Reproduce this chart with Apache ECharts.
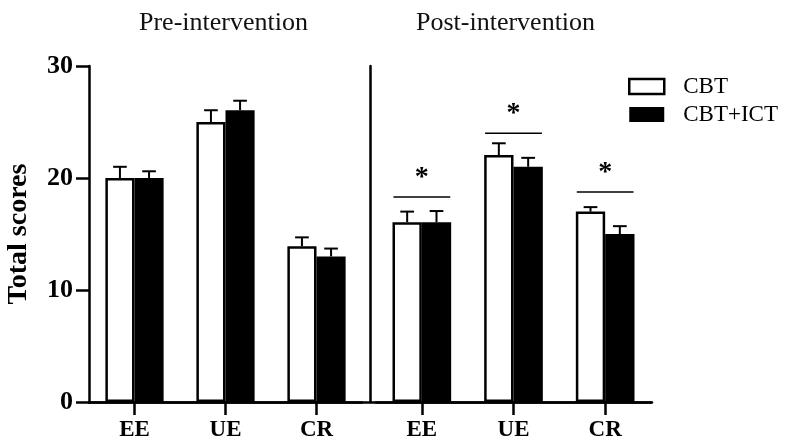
<!DOCTYPE html>
<html>
<head>
<meta charset="utf-8">
<script src="https://cdn.jsdelivr.net/npm/echarts@6/dist/echarts.min.js"></script>
<style>html,body{margin:0;padding:0;background:#fff;}#c{width:798px;height:442px;}</style>
</head>
<body>
<div id="c"></div>
<script>
var categories = ['EE', 'UE', 'CR'];
var yTicks = [0, 10, 20, 30];
// Pre-intervention
var preCBT = [20.0, 25.0, 13.9];
var preCBTUpper = [21.0, 26.05, 14.7];
var preICT = [20.0, 26.05, 13.0];
var preICTUpper = [20.6, 26.9, 13.7];
// Post-intervention
var postCBT = [16.05, 22.05, 17.0];
var postCBTUpper = [17.0, 23.1, 17.4];
var postICT = [16.05, 21.0, 15.0];
var postICTUpper = [17.05, 21.8, 15.7];
// Significance brackets (post-intervention)
var sigLevel = [18.3, 24.0, 18.75];
var sigMark = ['*', '*', '*'];

var FONT = '"Liberation Serif", "Times New Roman", serif';

function errData(means, uppers) {
  return means.map(function (m, i) { return [i, m, uppers[i]]; });
}
function errRender(sign) {
  return function (params, api) {
    var x = api.value(0);
    var p0 = api.coord([x, api.value(1)]);
    var p1 = api.coord([x, api.value(2)]);
    var band = api.size([1, 0])[0];
    var cx = p0[0] + sign * band * 0.16;
    var cap = band * 0.075;
    var st = { stroke: '#000', lineWidth: 2 };
    return {
      type: 'group',
      children: [
        { type: 'line', shape: { x1: cx, y1: p0[1], x2: cx, y2: p1[1] }, style: st },
        { type: 'line', shape: { x1: cx - cap, y1: p1[1], x2: cx + cap, y2: p1[1] }, style: st }
      ]
    };
  };
}
function sigRender(params, api) {
  var x = api.value(0);
  var p = api.coord([x, api.value(1)]);
  var band = api.size([1, 0])[0];
  var hw = band * 0.31;
  return {
    type: 'group',
    children: [
      { type: 'line', shape: { x1: p[0] - hw, y1: p[1], x2: p[0] + hw, y2: p[1] }, style: { stroke: '#000', lineWidth: 1.5 } },
      { type: 'text', style: { text: sigMark[params.dataIndex], x: p[0], y: p[1] - 5, align: 'center', verticalAlign: 'bottom', font: 'bold 28px ' + FONT, fill: '#000' } }
    ]
  };
}

function catAxis(gi) {
  return {
    type: 'category', gridIndex: gi, data: categories,
    axisLine: { show: true, lineStyle: { color: '#000', width: 2.5 } },
    axisTick: { show: true, alignWithLabel: true, length: 13, lineStyle: { color: '#000', width: 2.5 } },
    axisLabel: { color: '#000', fontFamily: FONT, fontWeight: 'bold', fontSize: 23, margin: 17 },
    splitLine: { show: false }
  };
}

var whiteStyle = { color: '#fff', borderColor: '#000', borderWidth: 2.5 };
var blackStyle = { color: '#000', borderColor: '#000', borderWidth: 0 };

var chart = echarts.init(document.getElementById('c'));
chart.setOption({
  animation: false,
  backgroundColor: '#fff',
  graphic: [
    { type: 'text', left: 139, top: 10, style: { text: 'Pre-intervention', font: '26px ' + FONT, fill: '#111' } },
    { type: 'text', left: 416, top: 10, style: { text: 'Post-intervention', font: '26px ' + FONT, fill: '#111' } }
  ],
  legend: {
    orient: 'vertical', left: 623, top: 70, itemWidth: 35, itemHeight: 15, itemGap: 5, icon: 'rect',
    textStyle: { fontFamily: FONT, fontSize: 23, color: '#000', padding: [0, 0, 0, 14] },
    data: [
      { name: 'CBT', itemStyle: { color: '#fff', borderColor: '#000', borderWidth: 2.5 } },
      { name: 'CBT+ICT', itemStyle: { color: '#000', borderWidth: 0 } }
    ]
  },
  grid: [
    { left: 89, width: 273, top: 66, bottom: 40 },
    { left: 376, width: 275, top: 66, bottom: 40 },
    { left: 89, width: 563, top: 66, bottom: 40 }
  ],
  xAxis: [
    catAxis(0),
    catAxis(1),
    { type: 'value', gridIndex: 2, min: 0, max: 1, axisLine: { show: true, lineStyle: { color: '#000', width: 2.5 } },
      axisTick: { show: false }, axisLabel: { show: false }, splitLine: { show: false } }
  ],
  yAxis: [
    { type: 'value', gridIndex: 0, min: 0, max: 30, interval: 10,
      name: 'Total scores', nameLocation: 'middle', nameGap: 56, nameRotate: 90,
      nameTextStyle: { fontFamily: FONT, fontWeight: 'bold', fontSize: 28, color: '#000' },
      axisLine: { show: true, lineStyle: { color: '#000', width: 2.5 } },
      axisTick: { show: true, length: 13, lineStyle: { color: '#000', width: 2.5 } },
      axisLabel: { color: '#000', fontFamily: FONT, fontWeight: 'bold', fontSize: 26, margin: 16,
        formatter: function (v) { return yTicks.indexOf(v) >= 0 ? String(v) : ''; } },
      splitLine: { show: false } },
    { type: 'value', gridIndex: 1, min: 0, max: 30, interval: 10, offset: 6,
      axisLine: { show: true, onZero: false, lineStyle: { color: '#000', width: 2.5 } },
      axisTick: { show: false }, axisLabel: { show: false }, splitLine: { show: false } },
    { type: 'value', gridIndex: 2, min: 0, max: 30, show: false }
  ],
  series: [
    { name: 'CBT', type: 'bar', xAxisIndex: 0, yAxisIndex: 0, data: preCBT, barWidth: '32%', barGap: '0%', itemStyle: whiteStyle, z: 2 },
    { name: 'CBT+ICT', type: 'bar', xAxisIndex: 0, yAxisIndex: 0, data: preICT, barWidth: '32%', barGap: '0%', itemStyle: blackStyle, z: 1 },
    { name: 'CBT', type: 'bar', xAxisIndex: 1, yAxisIndex: 1, data: postCBT, barWidth: '32%', barGap: '0%', itemStyle: whiteStyle, z: 2 },
    { name: 'CBT+ICT', type: 'bar', xAxisIndex: 1, yAxisIndex: 1, data: postICT, barWidth: '32%', barGap: '0%', itemStyle: blackStyle, z: 1 },
    { type: 'custom', xAxisIndex: 0, yAxisIndex: 0, renderItem: errRender(-1), data: errData(preCBT, preCBTUpper), z: 3, silent: true },
    { type: 'custom', xAxisIndex: 0, yAxisIndex: 0, renderItem: errRender(1), data: errData(preICT, preICTUpper), z: 3, silent: true },
    { type: 'custom', xAxisIndex: 1, yAxisIndex: 1, renderItem: errRender(-1), data: errData(postCBT, postCBTUpper), z: 3, silent: true },
    { type: 'custom', xAxisIndex: 1, yAxisIndex: 1, renderItem: errRender(1), data: errData(postICT, postICTUpper), z: 3, silent: true },
    { type: 'custom', xAxisIndex: 1, yAxisIndex: 1, renderItem: sigRender, data: sigLevel.map(function (v, i) { return [i, v]; }), z: 4, silent: true }
  ]
});
</script>
</body>
</html>
